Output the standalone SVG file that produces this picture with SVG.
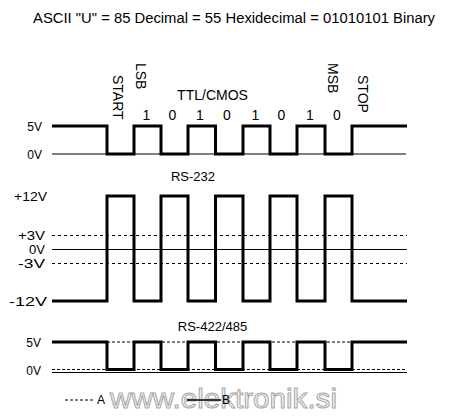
<svg xmlns="http://www.w3.org/2000/svg" width="450" height="417" viewBox="0 0 450 417">
<style>
text{font-family:"Liberation Sans",Arial,sans-serif;fill:#000}
.t14{font-size:14px}
.t13{font-size:13px}
.t12{font-size:12px}
.lbl{font-size:12px;text-anchor:end}
.lbl13{font-size:12.5px;text-anchor:end}
.wave{fill:none;stroke:#000;stroke-width:3;stroke-linejoin:miter}
.thin{fill:none;stroke:#000;stroke-width:1}
.dash{fill:none;stroke:#000;stroke-width:1;stroke-dasharray:3 3}
.dash2{fill:none;stroke:#000;stroke-width:1;stroke-dasharray:3 2}
.wm{font-size:28px;fill:#f4f4f4;stroke:#a8a8a8;stroke-width:1}
</style>
<rect width="450" height="417" fill="#fff"/>
<text class="t14" x="33" y="22.5" textLength="402" lengthAdjust="spacingAndGlyphs">ASCII "U" = 85 Decimal = 55 Hexidecimal = 01010101 Binary</text>

<g id="bit-labels">
<text class="t14" transform="translate(113,75) rotate(90)">START</text>
<text class="t14" transform="translate(136,63) rotate(90)">LSB</text>
<text class="t14" transform="translate(328,63) rotate(90)">MSB</text>
<text class="t14" transform="translate(358,75) rotate(90)">STOP</text>
<g class="t14" text-anchor="middle">
<text x="146.5" y="120">1</text>
<text x="172.5" y="120">0</text>
<text x="200" y="120">1</text>
<text x="227" y="120">0</text>
<text x="255.5" y="120">1</text>
<text x="281.5" y="120">0</text>
<text x="310" y="120">1</text>
<text x="337" y="120">0</text>
</g>
</g>

<g id="ttl-cmos">
<text class="t14" x="212.5" y="100" text-anchor="middle">TTL/CMOS</text>
<text class="lbl" x="42" y="130.5">5V</text>
<text class="lbl" x="42" y="158.5">0V</text>
<line class="thin" x1="52" y1="154" x2="406" y2="154"/>
<polyline class="wave" points="52,126 107,126 107,154 134,154 134,126 161,126 161,154 188,154 188,126 215.5,126 215.5,154 243,154 243,126 270,126 270,154 297,154 297,126 325,126 325,154 352,154 352,126 407,126"/>
</g>

<g id="rs-232">
<text class="t13" x="193" y="180.5" text-anchor="middle">RS-232</text>
<text class="lbl13" x="47" y="200.5" textLength="33" lengthAdjust="spacingAndGlyphs">+12V</text>
<text class="lbl13" x="45" y="239.5" textLength="27" lengthAdjust="spacingAndGlyphs">+3V</text>
<text class="lbl13" x="45" y="253.5" textLength="16" lengthAdjust="spacingAndGlyphs">0V</text>
<text class="lbl13" x="45" y="267.5" textLength="27" lengthAdjust="spacingAndGlyphs">-3V</text>
<text class="lbl13" x="47" y="305.5" textLength="38" lengthAdjust="spacingAndGlyphs">-12V</text>
<line class="dash" x1="52" y1="235.5" x2="407" y2="235.5"/>
<line class="thin" x1="52" y1="249.5" x2="407" y2="249.5"/>
<line class="dash" x1="52" y1="263.5" x2="407" y2="263.5"/>
<polyline class="wave" points="52,301 107,301 107,196 134,196 134,301 161,301 161,196 188,196 188,301 215.5,301 215.5,196 243,196 243,301 270,301 270,196 297,196 297,301 325,301 325,196 352,196 352,301 407,301"/>
</g>

<g id="rs-422-485">
<text class="t13" x="212.5" y="330.5" text-anchor="middle">RS-422/485</text>
<text class="lbl" x="41" y="346.5">5V</text>
<text class="lbl" x="41" y="374.5">0V</text>
<line class="dash2" x1="107" y1="342" x2="352" y2="342"/>
<line class="dash2" x1="52" y1="369.5" x2="407" y2="369.5"/>
<line class="thin" x1="52" y1="372.5" x2="407" y2="372.5"/>
<polyline class="wave" points="52,342 107,342 107,369.5 134,369.5 134,342 161,342 161,369.5 188,369.5 188,342 215.5,342 215.5,369.5 243,369.5 243,342 270,342 270,369.5 297,369.5 297,342 325,342 325,369.5 352,369.5 352,342 407,342"/>
</g>

<text class="wm" x="110" y="408" textLength="227" lengthAdjust="spacingAndGlyphs">www.elektronik.si</text>

<g id="legend">
<line class="dash2" x1="65" y1="400" x2="95" y2="400"/>
<text class="t12" x="97" y="404">A</text>
<line x1="187" y1="400" x2="221" y2="400" stroke="#000" stroke-width="1.5"/>
<text class="t12" x="222" y="404">B</text>
</g>
</svg>
